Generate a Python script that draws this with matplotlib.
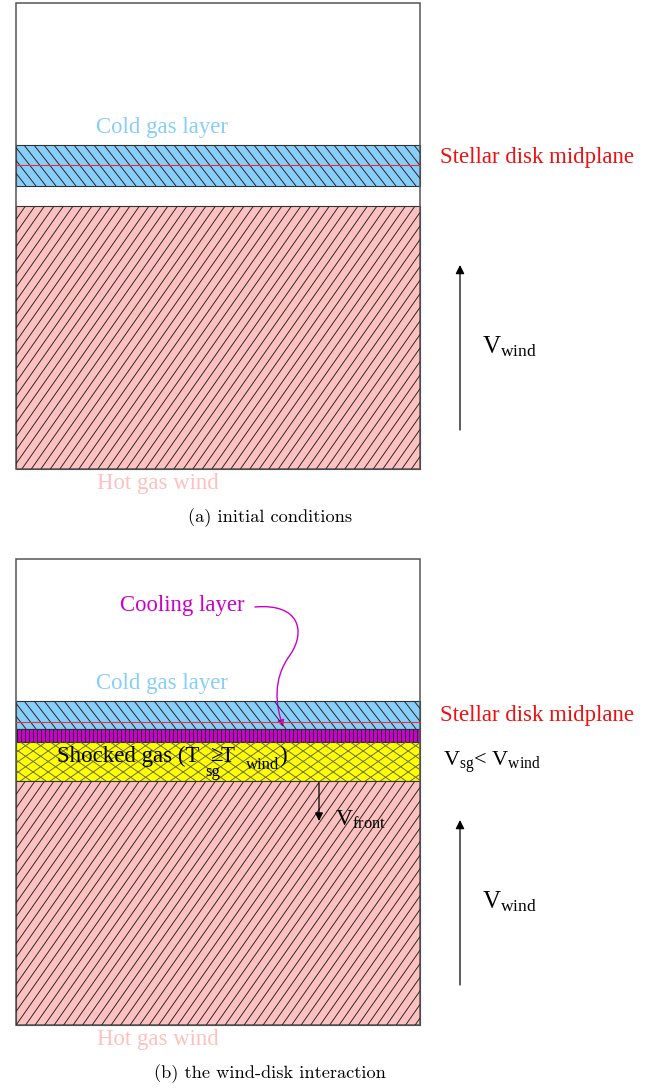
import numpy as np
import matplotlib.pyplot as plt
from matplotlib.patches import Rectangle, FancyArrowPatch
from matplotlib.collections import LineCollection
from matplotlib.path import Path

plt.rcParams['font.family'] = ['Liberation Serif', 'DejaVu Serif']
plt.rcParams['mathtext.fontset'] = 'custom'
plt.rcParams['mathtext.rm'] = 'Liberation Serif'
plt.rcParams['mathtext.it'] = 'Liberation Serif:italic'

# Layout of the two panels (pixel units, y grows downwards)
box_left, box_right = 16, 420
panel_tops = [3, 559]
panel_bottoms = [469, 1025]
midplane_y = [165, 722]
captions = ['(a) initial conditions', '(b) the wind-disk interaction']

# Gas layers per panel: (kind, top, bottom)
layers_a = [('cold', 145, 186), ('hot', 206, 469)]
layers_b = [('cold', 701, 729), ('cooling', 729, 742),
            ('shocked', 742, 781), ('hot', 781, 1025)]

# fill colour, hatch colour and hatch families (angle in degrees, period along x in px)
styles = {
    'cold': ('#87cefa', '#2a2a2a', [(-52, 10)]),
    'hot': ('#ffc0c0', '#2a2a2a', [(55, 9.5)]),
    'cooling': ('#cc00cc', '#222222', [(90, 4)]),
    'shocked': ('#ffff00', '#6a6a3a', [(35, 15), (-35, 15)]),
}

fig = plt.figure(figsize=(6.5, 10.88), dpi=100)
ax = fig.add_axes([0, 0, 1, 1])
ax.set_xlim(0, 650)
ax.set_ylim(1088, 0)
ax.axis('off')


def hatch_rect(rect, angle, period, color):
    x0, y0 = rect.get_x(), rect.get_y()
    w, h = rect.get_width(), rect.get_height()
    if angle == 90:
        xs = np.arange(x0 + 0.5, x0 + w, period)
        segs = [[(x, y0), (x, y0 + h)] for x in xs]
    else:
        dx = h / np.tan(np.radians(angle))
        xs = np.arange(x0 - abs(dx) - period, x0 + w + abs(dx) + period, period)
        # angle > 0 leans like '/', angle < 0 like '\'
        segs = [[(x, y0 + h), (x + abs(dx), y0)] if angle > 0 else
                [(x, y0), (x + abs(dx), y0 + h)] for x in xs]
    lc = LineCollection(segs, colors=color, linewidths=0.7)
    ax.add_collection(lc)
    lc.set_clip_path(rect)


def draw_layers(layers):
    for kind, top, bottom in layers:
        face, hcolor, families = styles[kind]
        rect = Rectangle((box_left, top), box_right - box_left, bottom - top,
                         facecolor=face, edgecolor='none')
        ax.add_patch(rect)
        for angle, period in families:
            hatch_rect(rect, angle, period, hcolor)
        ax.add_patch(Rectangle((box_left, top), box_right - box_left, bottom - top,
                               fill=False, edgecolor='#333333', lw=0.8))


def wind_arrow(y0, y1, ylab):
    ax.annotate('', xy=(460, y1), xytext=(460, y0),
                arrowprops=dict(arrowstyle='-|>', color='black', lw=0.9,
                                mutation_scale=13, shrinkA=0, shrinkB=0))
    ax.text(482, ylab, r'V$_{\mathrm{wind}}$', fontsize=18, va='center', ha='left')


for layers in (layers_a, layers_b):
    draw_layers(layers)

for i in range(2):
    top, bottom = panel_tops[i], panel_bottoms[i]
    ax.add_patch(Rectangle((box_left, top), box_right - box_left, bottom - top,
                           fill=False, edgecolor='#555555', lw=1.1))
    ax.plot([box_left, box_right], [midplane_y[i], midplane_y[i]],
            color='#e8303a', lw=0.8)
    ax.text(440, midplane_y[i] - 7, 'Stellar disk midplane', color='#ee1111',
            fontsize=16.4, va='center', ha='left')
    ax.text(162, (layers_a if i == 0 else layers_b)[0][1] - 17, 'Cold gas layer',
            color='#87cefa', fontsize=16.4, va='center', ha='center')
    ax.text(158, bottom + 14, 'Hot gas wind', color='#ffc0c0',
            fontsize=16.4, va='center', ha='center')
    ax.text(270, bottom + 49, captions[i], fontsize=13.2, family='cmr10',
            va='center', ha='center')

# wind arrows
wind_arrow(430, 265, 347)
wind_arrow(985, 820, 902)

# shocked gas label, subscripts dropped low as in the original sketch
ax.text(57, 762, 'Shocked gas (T', fontsize=16.5, va='baseline', ha='left')
ax.text(205, 776, 'sg', fontsize=12, va='baseline', ha='left')
ax.text(210, 761, '\u2265', fontsize=16.5, va='baseline', ha='left')
ax.text(221, 762, 'T', fontsize=16.5, va='baseline', ha='left')
ax.text(246, 769, 'wind', fontsize=12, va='baseline', ha='left')
ax.text(279, 762, ')', fontsize=16.5, va='baseline', ha='left')

ax.text(443, 762, r'V$_{\mathrm{sg}}$< V$_{\mathrm{wind}}$', fontsize=16,
        va='center', ha='left')
ax.annotate('', xy=(319, 821), xytext=(319, 783),
            arrowprops=dict(arrowstyle='-|>', color='black', lw=0.9,
                            mutation_scale=12, shrinkA=0, shrinkB=0))
ax.text(335, 820, r'V$_{\mathrm{front}}$', fontsize=17, va='center', ha='left')

# cooling layer label with curved pointer
ax.text(120, 606, 'Cooling layer', color='#cc00cc', fontsize=16.4,
        va='center', ha='left')
verts = [(255, 607), (300, 603), (306, 632), (290, 655),
         (272, 680), (276, 705), (283, 727)]
codes = [Path.MOVETO, Path.CURVE4, Path.CURVE4, Path.CURVE4,
         Path.CURVE4, Path.CURVE4, Path.CURVE4]
ax.add_patch(FancyArrowPatch(path=Path(verts, codes), arrowstyle='-|>',
                             color='#cc00cc', lw=1, mutation_scale=10))

fig.savefig('out.png', dpi=100)
